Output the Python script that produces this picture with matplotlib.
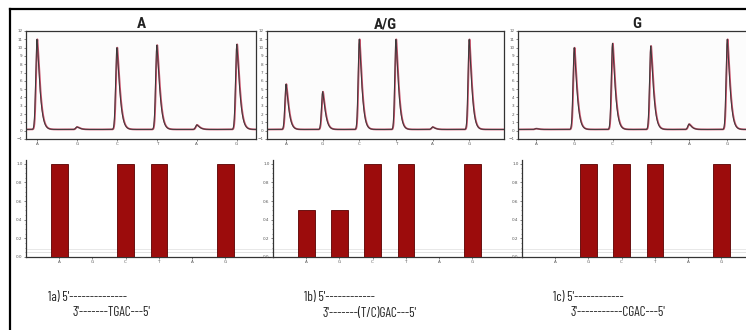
import numpy as np
import matplotlib
matplotlib.use("Agg")
import matplotlib.pyplot as plt
from matplotlib.lines import Line2D
from matplotlib.ticker import MultipleLocator
from matplotlib import font_manager as fm

# ---------------- data ----------------
bases = ["A", "G", "C", "T", "A", "G"]
titles = ["A", "A/G", "G"]
peak_A = [11.0, 0.45, 10.0, 10.3, 0.7, 10.4]
peak_AG = [5.6, 4.7, 11.0, 11.0, 0.45, 11.0]
peak_G = [0.25, 10.0, 10.5, 10.2, 0.8, 11.0]
bar_A = [1.0, 0.0, 1.0, 1.0, 0.0, 1.0]
bar_AG = [0.5, 0.5, 1.0, 1.0, 0.0, 1.0]
bar_G = [0.0, 1.0, 1.0, 1.0, 0.0, 1.0]
labels_1 = ["1a)", "1b)", "1c)"]
seq_core = ["TGAC", "(T/C)GAC", "CGAC"]
baseline_level = 0.15

available = {f.name for f in fm.fontManager.ttflist}
FONT = [f for f in ["Barlow Condensed", "Roboto Condensed", "Archivo Narrow",
                    "Liberation Sans Narrow"] if f in available][:1] + ["DejaVu Sans"]
TFONT = [f for f in ["Roboto Condensed", "Archivo Narrow"] if f in available][:1] + ["DejaVu Sans"]

W, H = 746, 330
fig = plt.figure(figsize=(W / 100, H / 100), dpi=100)
fig.patch.set_facecolor("white")
renderer = fig.canvas.get_renderer()

def px_axes(x0, y0, x1, y1):
    return fig.add_axes([x0 / W, 1 - y1 / H, (x1 - x0) / W, (y1 - y0) / H])

top_geo = [((26, 256), (-0.275, 5.48)),
           ((267, 504), (-0.52, 5.95)),
           ((518, 756), (-0.47, 5.75))]
bot_geo = [(26, 273), (273, 522), (522, 760)]
peaks = [peak_A, peak_AG, peak_G]
bars = [bar_A, bar_AG, bar_G]
text_x1 = [48, 304, 553]
text_x2 = [73, 323, 571]
line1_end = [123, 373, 621]
seq_start = [107, 356, 622]

def trace(x, centers, heights):
    y = np.full_like(x, baseline_level)
    for c, h in zip(centers, heights):
        d = x - c
        left = np.exp(-(d / 0.045) ** 2)
        right = np.exp(-(np.clip(d, 0, None) / 0.09) ** 1.3)
        y += (h - baseline_level) * np.where(d < 0, left, right)
    return y

def fit_dashes(t, prefix, target_px, dash="-"):
    n = 1
    while n < 40:
        t.set_text(prefix + dash * n)
        if t.get_window_extent(renderer).x1 >= target_px:
            break
        n += 1
    return prefix + dash * n

pos = np.arange(len(bases))
for i in range(3):
    (l, r), xl = top_geo[i]
    ax = px_axes(l, 31, r, 139)
    x = np.linspace(xl[0], xl[1], 3000)
    y = trace(x, pos, peaks[i])
    ax.plot(x + 0.01, y, color="#c8506a", lw=1.3, zorder=2)
    ax.plot(x, y, color="#3a3a3a", lw=0.7, zorder=3)
    ax.set_xlim(*xl)
    ax.set_ylim(-0.8, 12)
    ax.set_xticks(pos)
    ax.set_xticklabels(bases)
    ax.set_yticks(np.arange(-1, 13))
    ax.tick_params(labelsize=3, length=1.5, width=0.5, colors="#555555", pad=1)
    for s in ax.spines.values():
        s.set_color("#333333")
        s.set_linewidth(0.9)
    ax.set_facecolor("#fcfcfc")
    ax.set_title(titles[i], fontsize=11, family=TFONT, fontweight="bold", pad=2, color="#222222")

    bl, br = bot_geo[i]
    bx = px_axes(bl, 160, br, 257)
    width_units = (br - bl) / 33.2
    bx.bar(pos, bars[i], width=0.5, color="#9c0c0c", edgecolor="#5a0000", linewidth=0.6, zorder=3)
    bx.set_xlim(-1, -1 + width_units)
    bx.set_ylim(0, 1.04)
    bx.axhline(0.055, color="#dddddd", lw=0.6, zorder=1)
    bx.axhline(0.09, color="#e4e4e4", lw=0.6, zorder=1)
    bx.set_xticks(pos)
    bx.set_xticklabels(bases)
    bx.set_yticks(np.arange(0, 1.01, 0.2))
    bx.set_yticklabels(["0.0", "0.2", "0.4", "0.6", "0.8", "1.0"])
    bx.yaxis.set_minor_locator(MultipleLocator(0.05))
    bx.tick_params(labelsize=3, length=1.5, width=0.5, colors="#555555", pad=1)
    bx.tick_params(which="minor", length=1, width=0.4, colors="#555555")
    for side in ["top", "right"]:
        bx.spines[side].set_visible(False)
    for side in ["left", "bottom"]:
        bx.spines[side].set_color("#333333")
        bx.spines[side].set_linewidth(0.9)
    bx.patch.set_alpha(0)

    t1 = fig.text(text_x1[i] / W, 1 - 297 / H, "", fontsize=9.5, family=FONT,
                  va="center", ha="left", color="#222222")
    t1.set_text(fit_dashes(t1, labels_1[i] + " 5'", line1_end[i]))
    t2 = fig.text(text_x2[i] / W, 1 - 313 / H, "", fontsize=9.5, family=FONT,
                  va="center", ha="left", color="#222222")
    pre = fit_dashes(t2, "3'", seq_start[i])
    t2.set_text(pre + seq_core[i] + "---5'")

fig.add_artist(Line2D([10 / W, 10 / W], [0, 1 - 9 / H], color="black", lw=1.6,
                      transform=fig.transFigure))
fig.add_artist(Line2D([10 / W, 1], [1 - 9 / H, 1 - 9 / H], color="black", lw=1.6,
                      transform=fig.transFigure))

fig.savefig("out.png", dpi=100, facecolor="white")
